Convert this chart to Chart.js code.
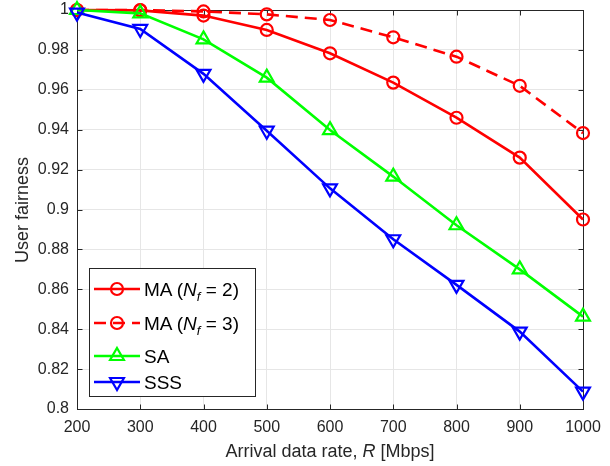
<!DOCTYPE html>
<html><head><meta charset="utf-8">
<script src="https://cdn.jsdelivr.net/npm/chart.js@4/dist/chart.umd.min.js"></script>
<style>
html,body{margin:0;padding:0;background:#fff;}
#wrap{position:relative;width:610px;height:466px;overflow:hidden;}
#c{position:absolute;left:0;top:0;}
.t{position:absolute;font-family:"Liberation Sans",Arial,Helvetica,sans-serif;color:#262626;white-space:nowrap;line-height:1;}
.lg{left:144px;font-size:19px;color:#000;transform:translateY(-50%);}
.lg sub{font-size:13px;vertical-align:-5px;line-height:0;}
#xt{left:330px;top:451px;font-size:18px;transform:translate(-50%,-50%);}
#yt{left:22px;top:210px;font-size:18px;transform:translate(-50%,-50%) rotate(-90deg);}
</style></head>
<body>
<div id="wrap">
<canvas id="c" width="610" height="466"></canvas>
<div class="t lg" style="top:289px">MA (<i>N<sub>f</sub></i> = 2)</div>
<div class="t lg" style="top:323px">MA (<i>N<sub>f</sub></i> = 3)</div>
<div class="t lg" style="top:356px">SA</div>
<div class="t lg" style="top:382px">SSS</div>
<div class="t" id="xt">Arrival data rate, <i>R</i> [Mbps]</div>
<div class="t" id="yt">User fairness</div>
</div>
<script>
// ---- data ----
const rates = [200, 300, 400, 500, 600, 700, 800, 900, 1000];
const maNf2 = [1.0, 0.9998, 0.9972, 0.990, 0.9783, 0.9636, 0.946, 0.926, 0.895];
const maNf3 = [1.0, 1.0, 0.9993, 0.9978, 0.995, 0.9863, 0.9766, 0.962, 0.9383];
const sa    = [1.0, 0.9983, 0.9853, 0.9661, 0.9398, 0.9165, 0.8921, 0.870, 0.8463];
const sss   = [0.9987, 0.9905, 0.968, 0.9395, 0.9106, 0.8851, 0.8622, 0.8388, 0.8087];
const xTicks = [200, 300, 400, 500, 600, 700, 800, 900, 1000];
const yTicks = [0.8, 0.82, 0.84, 0.86, 0.88, 0.9, 0.92, 0.94, 0.96, 0.98, 1];
const seriesNames = ['MA (Nf = 2)', 'MA (Nf = 3)', 'SA', 'SSS'];

const toXY = arr => arr.map((v, i) => ({x: rates[i], y: v}));
const RED = '#ff0000', GREEN = '#00ff00', BLUE = '#0000ff';

function ds(label, data, color, style, radius, rot, dash, order) {
  return {
    label, data: toXY(data), borderColor: color, backgroundColor: 'rgba(0,0,0,0)',
    borderWidth: 2.6, borderDash: dash, pointStyle: style, pointRadius: radius,
    pointRotation: rot, pointBorderWidth: 2.2, pointBorderColor: color,
    pointBackgroundColor: 'rgba(0,0,0,0)', tension: 0, clip: false, order
  };
}

function drawMarker(ctx, style, x, y, r, rot) {
  ctx.beginPath();
  if (style === 'circle') {
    ctx.arc(x, y, r, 0, Math.PI * 2);
  } else {
    let a = rot * Math.PI / 180;
    for (let k = 0; k < 3; k++) {
      const px = x + Math.sin(a) * r, py = y - Math.cos(a) * r;
      if (k === 0) ctx.moveTo(px, py); else ctx.lineTo(px, py);
      a += 2 * Math.PI / 3;
    }
    ctx.closePath();
  }
  ctx.stroke();
}

const framePlugin = {
  id: 'frame',
  beforeDatasetsDraw(chart) {
    const {ctx, chartArea: {left, right, top, bottom}, scales: {x, y}} = chart;
    ctx.save();
    ctx.strokeStyle = '#262626';
    ctx.lineWidth = 1;
    ctx.beginPath();
    const L = Math.round(left) + 0.5, R = Math.round(right) + 0.5, T = Math.round(top) + 0.5, B = Math.round(bottom) + 0.5;
    xTicks.forEach(v => {
      const px = Math.round(x.getPixelForValue(v)) + 0.5;
      ctx.moveTo(px, B); ctx.lineTo(px, B - 5);
      ctx.moveTo(px, T); ctx.lineTo(px, T + 5);
    });
    yTicks.forEach(v => {
      const py = Math.round(y.getPixelForValue(v)) + 0.5;
      ctx.moveTo(L, py); ctx.lineTo(L + 5, py);
      ctx.moveTo(R, py); ctx.lineTo(R - 5, py);
    });
    ctx.stroke();
    ctx.strokeRect(L, T, R - L, B - T);
    ctx.restore();
  },
  afterDraw(chart) {
    const ctx = chart.ctx;
    ctx.save();
    // legend box
    ctx.fillStyle = '#ffffff';
    ctx.fillRect(89.5, 268.5, 166, 128);
    ctx.strokeStyle = '#262626';
    ctx.lineWidth = 1;
    ctx.strokeRect(89.5, 268.5, 166, 128);
    const rows = [289, 323, 356, 382];
    chart.data.datasets.forEach((d, i) => {
      const yy = rows[i];
      ctx.strokeStyle = d.borderColor;
      ctx.lineWidth = d.borderWidth;
      ctx.setLineDash(d.borderDash || []);
      ctx.beginPath();
      ctx.moveTo(94, yy); ctx.lineTo(140, yy);
      ctx.stroke();
      ctx.setLineDash([]);
      ctx.lineWidth = d.pointBorderWidth;
      drawMarker(ctx, d.pointStyle, 117, yy, d.pointRadius, d.pointRotation);
    });
    ctx.restore();
  }
};

function noPad(s) { s.paddingTop = 0; s.paddingBottom = 0; s.paddingLeft = 0; s.paddingRight = 0; }

new Chart(document.getElementById('c'), {
  type: 'line',
  data: {
    datasets: [
      ds(seriesNames[0], maNf2, RED, 'circle', 6, 0, [], 4),
      ds(seriesNames[1], maNf3, RED, 'circle', 6, 0, [12, 7], 3),
      ds(seriesNames[2], sa, GREEN, 'triangle', 8, 0, [], 2),
      ds(seriesNames[3], sss, BLUE, 'triangle', 8, 180, [], 1)
    ]
  },
  options: {
    responsive: false,
    animation: false,
    devicePixelRatio: 1,
    layout: {autoPadding: false, padding: {top: 10, right: 27, left: 0, bottom: 0}},
    plugins: {legend: {display: false}, tooltip: {enabled: false}},
    scales: {
      x: {
        type: 'linear', min: 200, max: 1000,
        afterBuildTicks: s => { s.ticks = xTicks.map(v => ({value: v})); },
        afterFit: s => { s.height = 57; noPad(s); },
        grid: {color: '#e6e6e6', drawTicks: false, lineWidth: 1},
        border: {display: false},
        ticks: {padding: 9, color: '#262626', font: {family: '"Liberation Sans", Arial, sans-serif', size: 16}, maxRotation: 0,
          callback: v => String(v)}
      },
      y: {
        type: 'linear', min: 0.8, max: 1,
        afterBuildTicks: s => { s.ticks = yTicks.map(v => ({value: v})); },
        afterFit: s => { s.width = 77; noPad(s); },
        grid: {color: '#e6e6e6', drawTicks: false, lineWidth: 1},
        border: {display: false},
        ticks: {padding: 8, color: '#262626', font: {family: '"Liberation Sans", Arial, sans-serif', size: 16},
          callback: v => String(Number(v.toFixed(2)))}
      }
    }
  },
  plugins: [framePlugin]
});
</script>
</body></html>
